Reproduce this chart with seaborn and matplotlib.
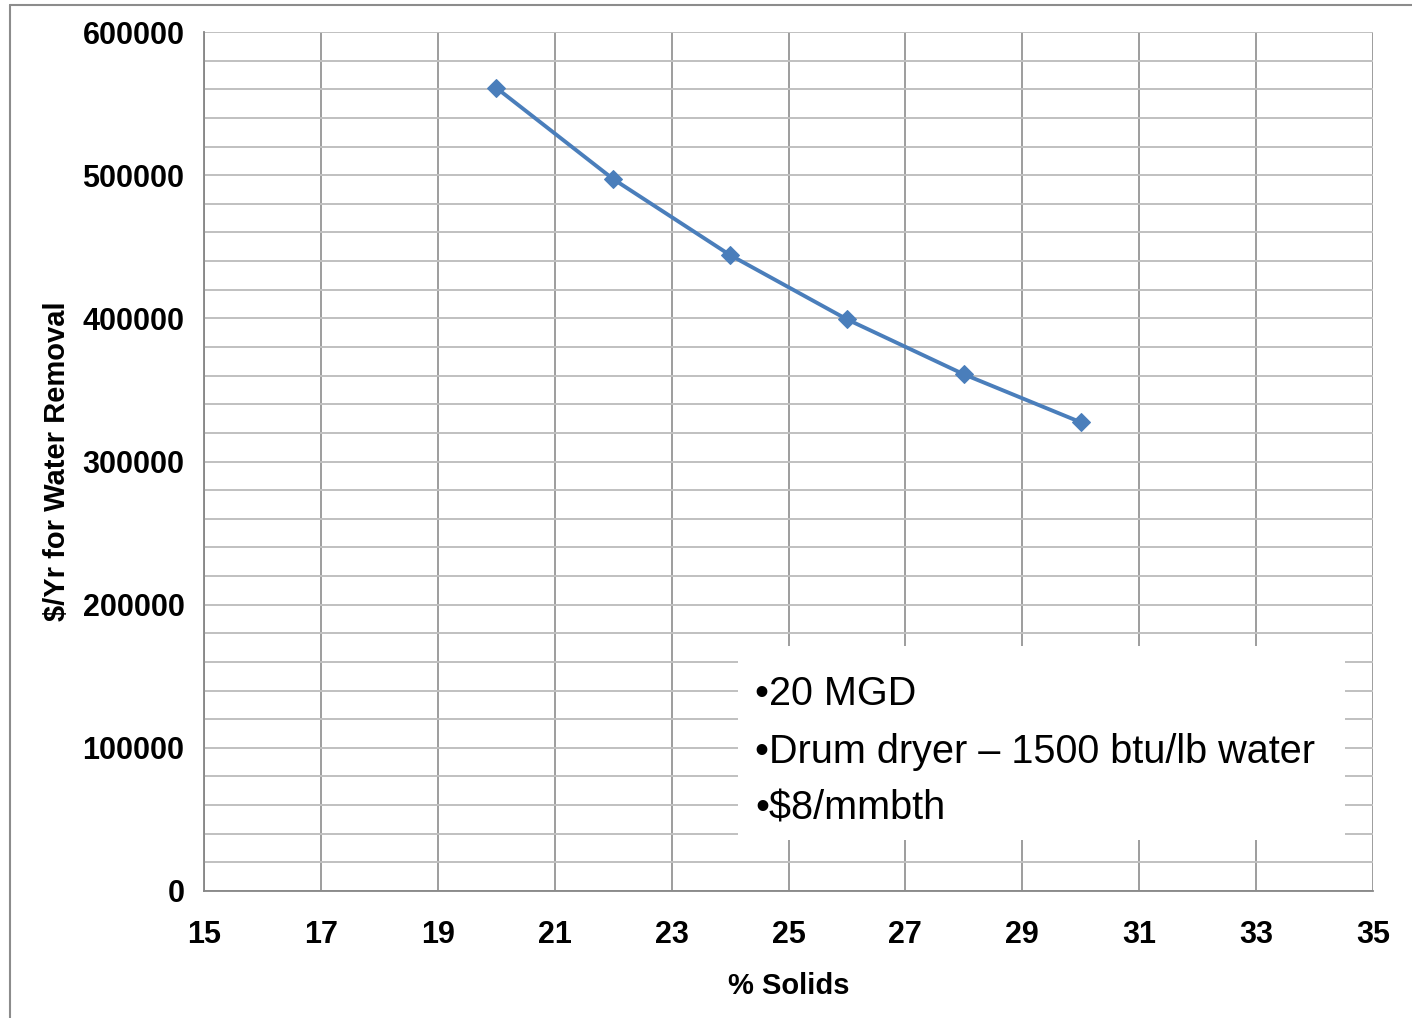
import matplotlib
matplotlib.use("Agg")
import matplotlib.pyplot as plt
from matplotlib.lines import Line2D
from matplotlib.patches import Rectangle
from matplotlib.ticker import FixedLocator, MultipleLocator
import seaborn as sns
import pandas as pd

# Drying cost versus cake solids content
pct_solids = [20, 22, 24, 26, 28, 30]
cost_per_year = [561000, 497300, 444200, 399300, 360900, 327400]
x_ticks = [15, 17, 19, 21, 23, 25, 27, 29, 31, 33, 35]
notes = ["•20 MGD", "•Drum dryer – 1500 btu/lb water", "•$8/mmbth"]

df = pd.DataFrame({"solids": pct_solids, "cost": cost_per_year})

sns.set_style("white")
plt.rcParams["font.family"] = ["Liberation Sans", "DejaVu Sans"]
plt.rcParams["text.color"] = "black"
plt.rcParams["axes.labelcolor"] = "black"
plt.rcParams["xtick.color"] = "black"
plt.rcParams["ytick.color"] = "black"

W, H = 1412, 1018
fig = plt.figure(figsize=(W / 100, H / 100), dpi=100)
ax = fig.add_axes([204 / W, 1 - 891 / H, (1373 - 204) / W, (891 - 32) / H])

sns.lineplot(data=df, x="solids", y="cost", ax=ax, color="#4a7ebb",
             linewidth=2.8, marker="D", markersize=9,
             markeredgecolor="#4a7ebb", zorder=5)

ax.set_xlim(15, 35)
ax.set_ylim(0, 600000)
ax.xaxis.set_major_locator(FixedLocator(x_ticks))
ax.yaxis.set_major_locator(MultipleLocator(100000))
ax.yaxis.set_minor_locator(MultipleLocator(20000))

ax.grid(True, axis="x", which="major", color="#8c8c8c", linewidth=1.2)
ax.grid(True, axis="y", which="both", color="#c0c0c0", linewidth=1.4)
ax.set_axisbelow(True)

for side in ("top", "right"):
    ax.spines[side].set_visible(False)
for side in ("left", "bottom"):
    ax.spines[side].set_color("#868686")
    ax.spines[side].set_linewidth(1.3)

ax.tick_params(axis="both", which="major", length=8, width=1.2,
               color="#868686", labelcolor="black", labelsize=22, pad=6)
ax.tick_params(axis="y", which="minor", length=0)
ax.tick_params(axis="x", pad=13)
for lbl in ax.get_xticklabels() + ax.get_yticklabels():
    lbl.set_fontweight("bold")

ax.set_xlabel("% Solids", fontsize=21, fontweight="bold", labelpad=16)
ax.set_ylabel("$/Yr for Water Removal", fontsize=21, fontweight="bold",
              labelpad=8)

# Annotation box with operating assumptions
def fx(px):
    return (px - 204) / (1373 - 204)


def fy(py):
    return (891 - py) / (891 - 32)


ax.add_patch(Rectangle((fx(738), fy(840)), fx(1345) - fx(738),
                       fy(646) - fy(840), transform=ax.transAxes,
                       facecolor="white", edgecolor="none", zorder=4))
for line, base in zip(notes, [705, 763, 820]):
    ax.text(fx(755), fy(base), line, transform=ax.transAxes,
            fontsize=28.5, va="baseline", ha="left", color="black", zorder=6)

# Outer chart frame
fig.add_artist(Line2D([10 / W, 10 / W], [0, 1 - 5 / H],
                      transform=fig.transFigure, color="#8c8c8c", linewidth=1.5))
fig.add_artist(Line2D([10 / W, 1], [1 - 5 / H, 1 - 5 / H],
                      transform=fig.transFigure, color="#8c8c8c", linewidth=1.5))

fig.savefig("out.png", dpi=100)
